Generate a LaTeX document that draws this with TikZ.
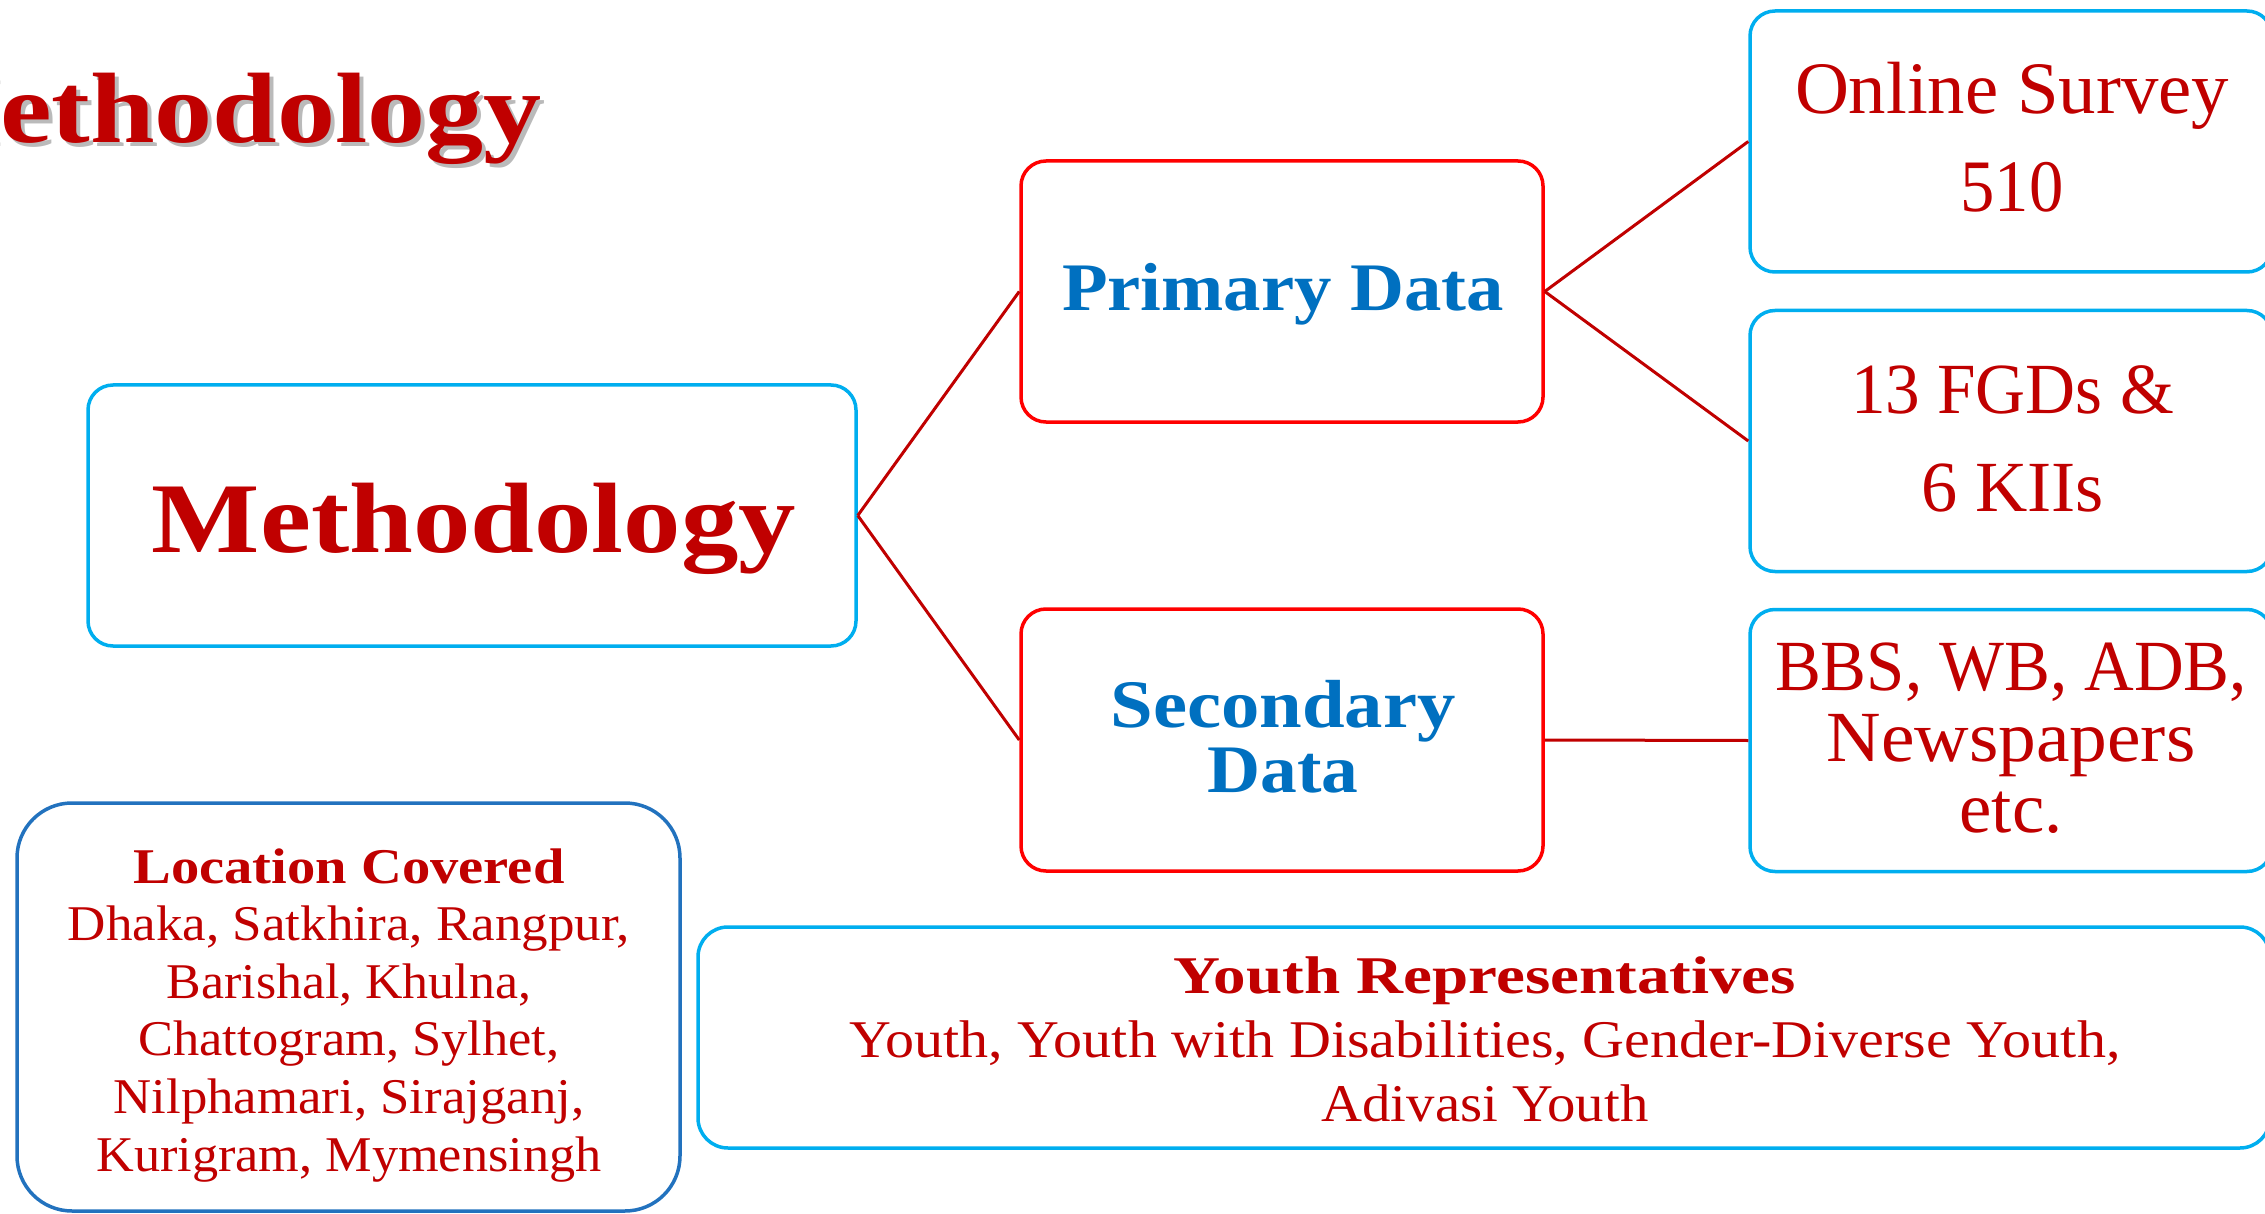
\documentclass[tikz,border=0pt]{standalone}
\usepackage{fontspec}
\setmainfont{Liberation Serif}
\usepackage{graphicx}
\definecolor{txtred}{HTML}{C00000}
\definecolor{txtblue}{HTML}{0070C0}
\definecolor{skyline}{HTML}{00AEEF}
\definecolor{redline}{HTML}{FF0000}
\definecolor{linkred}{HTML}{C00000}
\definecolor{deepline}{HTML}{2272BE}
% set a line to an exact width, keeping its height
\newcommand\fitto[2]{\resizebox{#1pt}{\height}{#2}}
\newcommand\sz[2]{\fontsize{#1}{#2}\selectfont\lineskiplimit=-1000pt\relax}

\begin{document}
\begin{tikzpicture}[x=1pt,y=-1pt,
  panel/.style={draw, rounded corners=25pt, line width=3.5pt,
    minimum width=522pt, minimum height=261pt, inner sep=0pt},
  skypanel/.style={panel, draw=skyline},
  redpanel/.style={panel, draw=redline},
  link/.style={draw=linkred, line width=3pt},
  % multi-line labels are placed by the baseline of their last line
  label/.style={inner sep=0pt, outer sep=0pt, anchor=base, align=center}
]
\useasboundingbox (0,0) rectangle (2265,1214);

% heading with soft drop shadow
\node[label, anchor=base west, text=black!45, opacity=.6, font=\sz{100}{120}\bfseries]
  (headshadow) at (4,147) {\fitto{542}{\llap{M}ethodology}};
\node[label, anchor=base west, text=txtred, font=\sz{100}{120}\bfseries]
  (head) at (0,143) {\fitto{542}{\llap{M}ethodology}};

% boxes
\node[skypanel, minimum width=768pt] (meth) at (472,515.5) {};
\node[redpanel] (prim) at (1282,291.5) {};
\node[redpanel, minimum height=262pt] (sec) at (1282,740) {};
\node[skypanel] (online) at (2011,141.5) {};
\node[skypanel] (fgd) at (2011,441) {};
\node[skypanel, minimum height=262pt] (bbs) at (2011,740.5) {};
\node[panel, draw=deepline, rounded corners=55pt, minimum width=663pt,
  minimum height=408pt] (loc) at (348.5,1007) {};
\node[skypanel, rounded corners=30pt, minimum width=1572pt,
  minimum height=221pt] (youth) at (1484,1037.5) {};

% connectors
\draw[link] (meth.east) -- (prim.west);
\draw[link] (meth.east) -- (sec.west);
\draw[link] (prim.east) -- (online.west);
\draw[link] (prim.east) -- (fgd.west);
\draw[link] (sec.east) -- (bbs.west);

% texts
\node[label, text=txtred, font=\sz{100}{120}\bfseries] (methtext) at (474,552)
  {\fitto{644}{Methodology}};
\node[label, text=txtblue, font=\sz{68}{80}\bfseries] (primtext) at (1283,311)
  {\fitto{442}{Primary Data}};
\node[label, text=txtblue, font=\sz{68}{65}\bfseries] (sectext) at (1283,792)
  {\fitto{345}{Secondary}\\\fitto{151}{Data}};
\node[label, text=txtred, font=\sz{74}{98}] (onlinetext) at (2012,212)
  {\fitto{434}{Online Survey}\\\fitto{103}{510}};
\node[label, text=txtred, font=\sz{72}{98}] (fgdtext) at (2012.5,511)
  {\fitto{323}{13 FGDs \&}\\\fitto{183}{6 KIIs}};
\node[label, text=txtred, font=\sz{72}{71}] (bbstext) at (2011,832)
  {\fitto{472}{BBS, WB, ADB,}\\\fitto{369}{Newspapers}\\\fitto{103}{etc.}};
\node[label, text=txtred, font=\sz{50}{57.6}] (loctext) at (349,1171)
  {{\bfseries\fitto{431}{Location Covered}}\\
   \fitto{562}{Dhaka, Satkhira, Rangpur,}\\
   \fitto{364.5}{Barishal, Khulna,}\\
   \fitto{421}{Chattogram, Sylhet,}\\
   \fitto{470.5}{Nilphamari, Sirajganj,}\\
   \fitto{505}{Kurigram, Mymensingh}};
\node[label, text=txtred, font=\sz{53}{64}] (youthtext) at (1485,1121)
  {{\bfseries\fitto{622}{Youth Representatives}}\\
   \fitto{1271}{Youth, Youth with Disabilities, Gender-Diverse Youth,}\\
   \fitto{327}{Adivasi Youth}};
\end{tikzpicture}
\end{document}
